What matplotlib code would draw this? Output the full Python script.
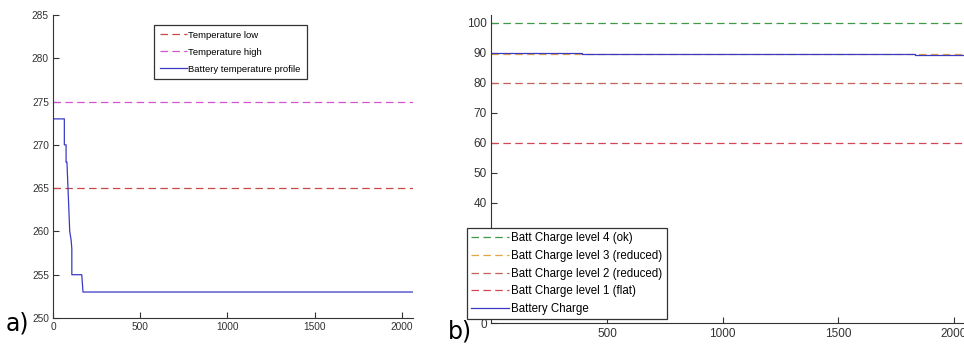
import matplotlib
matplotlib.use('Agg')
import matplotlib.pyplot as plt

# panel a) battery temperature
temp_t = [0, 65, 65, 75, 75, 80, 88, 96, 104, 108, 108, 165, 172, 2070]
temp_k = [273, 273, 270, 270, 268, 268, 264, 260, 259, 258, 255, 255, 253, 253]
temp_low = 265
temp_high = 275
temp_labels = ['Temperature low', 'Temperature high', 'Battery temperature profile']

# panel b) battery charge
charge_t = [0, 390, 390, 980, 980, 1835, 1835, 2050]
charge = [90.0, 90.0, 89.7, 89.7, 89.5, 89.5, 89.2, 89.2]
levels = [100, 89.5, 80, 60]
level_labels = ['Batt Charge level 4 (ok)', 'Batt Charge level 3 (reduced)',
                'Batt Charge level 2 (reduced)', 'Batt Charge level 1 (flat)']
level_colors = ['#3f9a45', '#e2a540', '#c2605a', '#d24656']

arial = 'Liberation Sans'

fig = plt.figure(figsize=(9.64, 3.45), dpi=100)

# ---- a) ----
a = fig.add_axes([53/964, 1-318/345, 360/964, 303/345])
a.axhline(temp_low, color='#c84848', ls=(0, (6, 3.5)), lw=0.9, label=temp_labels[0])
a.axhline(temp_high, color='#d254d2', ls=(0, (6, 3.5)), lw=0.9, label=temp_labels[1])
a.plot(temp_t, temp_k, color='#3a3ac4', lw=0.9, label=temp_labels[2])
a.set_xlim(0, 2065)
a.set_ylim(250, 285)
a.set_xticks([0, 500, 1000, 1500, 2000])
a.set_yticks(range(250, 286, 5))
a.spines['top'].set_visible(False)
a.spines['right'].set_visible(False)
for s in ('left', 'bottom'):
    a.spines[s].set_color('#333333')
a.tick_params(direction='in', length=4, width=0.8, colors='#333333', labelsize=7.3,
              pad=3)
for lab in a.get_xticklabels() + a.get_yticklabels():
    lab.set_family(arial)
leg = a.legend(loc='upper left', bbox_to_anchor=(154/964, 1-25/345),
               bbox_transform=fig.transFigure, borderaxespad=0,
               prop={'family': arial, 'size': 6.8}, frameon=True, fancybox=False,
               framealpha=1, handlelength=2.9, handletextpad=0.15,
               labelspacing=0.85, borderpad=0.6)
leg.get_frame().set_edgecolor('#333333')
leg.get_frame().set_linewidth(0.9)

# ---- b) ----
b = fig.add_axes([491.5/964, 1-323/345, 1-491.5/964, 308/345])
for lv, lab, col in zip(levels, level_labels, level_colors):
    b.axhline(lv, color=col, ls=(0, (6, 3.5)), lw=0.9, label=lab)
b.plot(charge_t, charge, color='#3a3ac4', lw=0.9, label='Battery Charge')
b.set_xlim(0, 2045)
b.set_ylim(0, 102.6)
b.set_xticks([500, 1000, 1500, 2000])
b.set_yticks(range(0, 101, 10))
b.spines['top'].set_visible(False)
b.spines['right'].set_visible(False)
for s in ('left', 'bottom'):
    b.spines[s].set_color('#333333')
b.tick_params(direction='in', length=4, width=0.8, colors='#333333', labelsize=8.5)
for lab in b.get_xticklabels() + b.get_yticklabels():
    lab.set_family(arial)
leg2 = b.legend(loc='upper left', bbox_to_anchor=(467/964, 1-228/345),
                bbox_transform=fig.transFigure, borderaxespad=0,
                prop={'family': arial, 'size': 8.3}, frameon=True, fancybox=False,
                framealpha=1, handlelength=3.3, handletextpad=0.2,
                labelspacing=0.5, borderpad=0.35)
leg2.get_frame().set_edgecolor('#333333')
leg2.get_frame().set_linewidth(0.9)

fig.text(6/964, 1-330/345, 'a)', fontsize=17, family='DejaVu Sans')
fig.text(448/964, 1-338/345, 'b)', fontsize=17, family='DejaVu Sans')

fig.savefig('out.png', dpi=100)
